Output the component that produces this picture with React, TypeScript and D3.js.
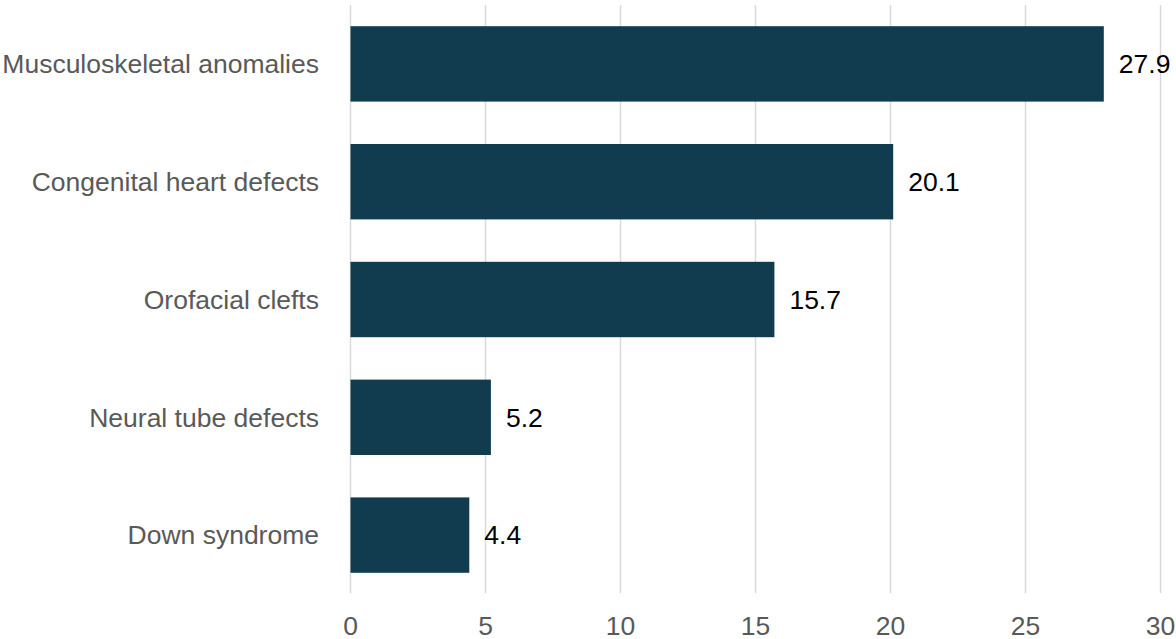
import React from "react";
import * as d3 from "d3";

const categories = [
  "Musculoskeletal anomalies",
  "Congenital heart defects",
  "Orofacial clefts",
  "Neural tube defects",
  "Down syndrome",
];
const values = [27.9, 20.1, 15.7, 5.2, 4.4];
const xTicks = [0, 5, 10, 15, 20, 25, 30];

const W = 1176;
const H = 639;
const FONT = "'Liberation Sans', Arial, sans-serif";
const FS = 26.5;

export default function App() {
  const x = d3.scaleLinear().domain([0, 30]).range([350.5, 1160.5]);
  const y = d3
    .scaleBand<string>()
    .domain(categories)
    .range([5, 594])
    .paddingInner(0.36)
    .paddingOuter(0.18);

  return (
    <svg
      width={W}
      height={H}
      style={{ position: "absolute", left: 0, top: 0, display: "block", background: "#fff" }}
    >
      {xTicks.map((t) => (
        <line
          key={"g" + t}
          x1={x(t)}
          x2={x(t)}
          y1={5}
          y2={593}
          stroke="#d9d9d9"
          strokeWidth={1.5}
        />
      ))}
      {categories.map((c, i) => (
        <rect
          key={"b" + c}
          x={x(0)}
          y={y(c)}
          width={x(values[i]) - x(0)}
          height={y.bandwidth()}
          fill="#113c4f"
        />
      ))}
      {categories.map((c, i) => (
        <text
          key={"v" + c}
          x={x(values[i]) + 15}
          y={(y(c) as number) + y.bandwidth() / 2}
          dy="0.35em"
          fontFamily={FONT}
          fontSize={FS}
          fill="#000"
        >
          {values[i].toFixed(1)}
        </text>
      ))}
      {categories.map((c) => (
        <text
          key={"c" + c}
          x={319}
          y={(y(c) as number) + y.bandwidth() / 2}
          dy="0.35em"
          textAnchor="end"
          fontFamily={FONT}
          fontSize={FS}
          fill="#595959"
        >
          {c}
        </text>
      ))}
      {xTicks.map((t) => (
        <text
          key={"t" + t}
          x={x(t)}
          y={635}
          textAnchor="middle"
          fontFamily={FONT}
          fontSize={FS}
          fill="#595959"
        >
          {t}
        </text>
      ))}
    </svg>
  );
}
